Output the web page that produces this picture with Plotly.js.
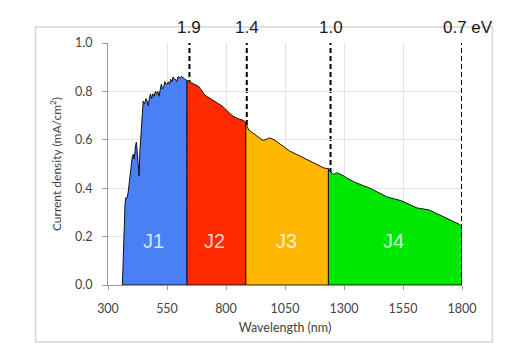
<!DOCTYPE html>
<html><head><meta charset="utf-8">
<script src="https://cdn.plot.ly/plotly-3.0.1.min.js"></script>
<style>html,body{margin:0;padding:0;background:#fff;}#chart{width:512px;height:352px;}</style>
</head><body><div id="chart"></div>
<script>
// Spectrum: wavelength (nm) and current density (mA/cm2)
const wavelength = [361,364,368,372,375,381,385,389,393,398,403,407,411,416,420,424,428,432,435,438,441,445,449,455,461,466,471,475,480,485,490,496,501,506,511,516,521,526,531,536,541,546,551,556,561,566,571,576,581,586,591,596,601,606,611,616,621,626,631,635,
645,655,665,675,685,692,698,704,710,718,726,735,745,755,762,770,778,786,794,802,810,818,826,834,842,850,858,866,874,884,
890,896,904,912,920,928,936,944,952,960,968,976,984,992,1000,1008,1016,1024,1032,1040,1048,1056,1064,1072,1080,1088,1096,1104,1112,1120,1128,1136,1144,1152,1160,1168,1176,1184,1192,1200,1208,1216,1225,1234,
1240,1248,1256,1264,1272,1280,1290,1300,1310,1320,1330,1340,1350,1360,1370,1380,1390,1400,1410,1420,1430,1440,1450,1460,1470,1480,1490,1500,1510,1520,1530,1540,1550,1560,1570,1580,1590,1600,1610,1620,1630,1640,1650,1660,1670,1680,1690,1700,1710,1720,1730,1740,1750,1760,1770,1780,1790,1800];
const current = [0,0.12,0.22,0.33,0.36,0.36,0.38,0.41,0.46,0.50,0.53,0.54,0.52,0.57,0.59,0.55,0.49,0.45,0.55,0.60,0.66,0.72,0.76,0.75,0.77,0.76,0.74,0.77,0.79,0.77,0.79,0.78,0.80,0.79,0.80,0.78,0.81,0.83,0.81,0.82,0.84,0.83,0.83,0.84,0.83,0.85,0.84,0.86,0.85,0.85,0.84,0.86,0.86,0.855,0.862,0.86,0.855,0.85,0.848,0.845,
0.84,0.835,0.83,0.825,0.82,0.81,0.80,0.79,0.785,0.78,0.775,0.77,0.765,0.76,0.755,0.75,0.745,0.738,0.73,0.722,0.715,0.71,0.70,0.695,0.69,0.688,0.685,0.683,0.68,0.672,
0.655,0.64,0.635,0.628,0.622,0.618,0.612,0.605,0.60,0.598,0.60,0.604,0.608,0.605,0.602,0.598,0.592,0.586,0.58,0.575,0.568,0.562,0.556,0.552,0.549,0.545,0.54,0.536,0.533,0.529,0.525,0.522,0.518,0.513,0.508,0.504,0.50,0.496,0.492,0.488,0.485,0.483,0.482,0.481,
0.47,0.462,0.457,0.462,0.463,0.46,0.456,0.45,0.443,0.437,0.432,0.428,0.423,0.418,0.414,0.411,0.408,0.405,0.40,0.395,0.39,0.383,0.377,0.372,0.368,0.365,0.362,0.36,0.357,0.354,0.352,0.349,0.345,0.34,0.336,0.331,0.325,0.32,0.318,0.317,0.316,0.314,0.312,0.31,0.306,0.30,0.296,0.292,0.287,0.282,0.277,0.272,0.268,0.264,0.26,0.255,0.25,0.24];

const junctionNames = ['J1','J2','J3','J4'];
const junctionBounds = [361, 635, 884, 1234, 1800];
const junctionColors = ['#4a80f5','#ff2a00','#ffb700','#00e600'];
const junctionLabelX = [494, 753, 1057, 1510];
const junctionLabelY = [0.183, 0.183, 0.183, 0.183];

const gapLabels = ['1.9','1.4','1.0','0.7 eV'];
const gapWavelengths = [645, 888, 1243, 1800];

const xTicks = [300,550,800,1050,1300,1550,1800];
const yTicks = [0,0.2,0.4,0.6,0.8,1.0];

const traces = junctionNames.map((name, i) => {
  const a = junctionBounds[i], b = junctionBounds[i+1];
  const xs = [a], ys = [0];
  wavelength.forEach((w, k) => { if (w >= a && w <= b) { xs.push(w); ys.push(current[k]); } });
  xs.push(b); ys.push(0); xs.push(a); ys.push(0);
  return {x: xs, y: ys, type: 'scatter', mode: 'lines', fill: 'toself',
    fillcolor: junctionColors[i], line: {color: '#111', width: 1}, name: name,
    hoverinfo: 'skip', showlegend: false};
});

const shapes = gapWavelengths.map((w, i) => ({
  type: 'line', xref: 'x', yref: 'y', x0: w, x1: w, y0: 0, y1: 1,
  line: {color: '#000', width: 2, dash: '5px,3px'},
  layer: i === gapWavelengths.length - 1 ? 'above' : 'below'
}));
shapes.push({type: 'rect', xref: 'paper', yref: 'paper', x0: -0.2046, x1: 1.0857, y0: -0.2355, y1: 1.066,
  line: {color: '#d6d6d6', width: 1.5}, layer: 'below'});

const annotations = [];
junctionNames.forEach((n, i) => annotations.push({x: junctionLabelX[i], y: junctionLabelY[i], xref: 'x', yref: 'y',
  text: n, showarrow: false, font: {family: 'Liberation Sans, Arial', size: 20, color: 'rgba(255,255,255,0.8)'}}));
gapLabels.forEach((t, i) => annotations.push({x: gapWavelengths[i], y: 1.066, xref: 'x', yref: 'paper',
  text: t, showarrow: false, xshift: i === gapLabels.length - 1 ? 6 : 0, yanchor: 'middle',
  font: {family: 'Liberation Sans, Arial', size: 17, color: '#1a1a1a'}}));

const layout = {
  width: 512, height: 352,
  margin: {l: 108, r: 50, t: 43, b: 67},
  paper_bgcolor: '#fff', plot_bgcolor: '#fff',
  showlegend: false,
  xaxis: {range: [300, 1800], tickvals: xTicks, ticktext: xTicks.map(String),
    showgrid: true, gridcolor: '#e3e3e3', gridwidth: 1, zeroline: false,
    showline: true, linecolor: '#9a9a9a', linewidth: 1,
    ticks: 'outside', ticklen: 4, tickcolor: '#9a9a9a', ticklabelstandoff: 8,
    tickfont: {family: 'Lato, Open Sans', size: 12.5, color: '#444'},
    title: {text: 'Wavelength (nm)', font: {family: 'Lato, Open Sans', size: 12.5, color: '#444'}, standoff: 8}},
  yaxis: {range: [0, 1], tickvals: yTicks, ticktext: yTicks.map(v => v.toFixed(1)),
    showgrid: true, gridcolor: '#e3e3e3', gridwidth: 1, zeroline: false,
    showline: true, linecolor: '#9a9a9a', linewidth: 1,
    ticks: 'outside', ticklen: 5, tickcolor: '#9a9a9a', ticklabelstandoff: 7,
    tickfont: {family: 'Lato, Open Sans', size: 12.5, color: '#444'},
    title: {text: 'Current density (mA/cm<sup>2</sup>)', font: {family: 'Lato, Open Sans', size: 12, color: '#444'}, standoff: 10}},
  shapes: shapes,
  annotations: annotations
};

Plotly.newPlot('chart', traces, layout, {displayModeBar: false, staticPlot: true});
</script></body></html>
